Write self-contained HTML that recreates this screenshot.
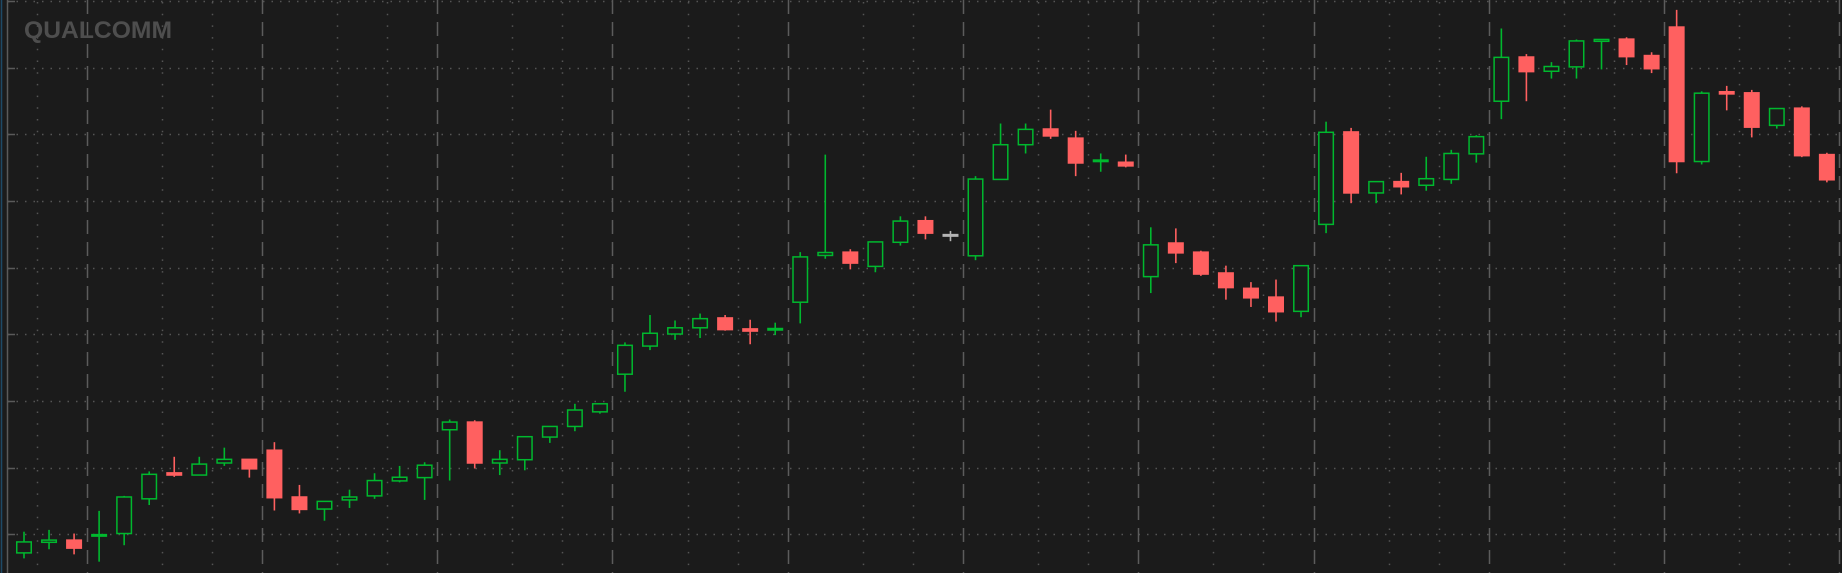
<!DOCTYPE html>
<html><head><meta charset="utf-8"><style>
html,body{margin:0;padding:0;background:#1b1b1b;}
svg{display:block;}
</style></head><body>
<svg id="chart" width="1842" height="573" xmlns="http://www.w3.org/2000/svg">
<rect x="0" y="0" width="1842" height="573" fill="#1b1b1b"/>
<line x1="1.5" y1="0" x2="1.5" y2="573" stroke="#1e4a66" stroke-width="1.5"/>
<g id="grid"></g>
<text x="24" y="38" font-family="Liberation Sans, sans-serif" font-weight="bold" font-size="24" fill="#4e4e4e" textLength="148" lengthAdjust="spacingAndGlyphs">QUALCOMM</text>
<line x1="7.5" y1="0" x2="7.5" y2="573" stroke="#5a5a5a" stroke-width="1.5"/>
<g id="candles"></g>
</svg>
<script>
const opens  = [8.7,11.6,12.2,13.3,14,23.5,30.6,30,33.3,34.3,36.8,24,20.7,23.2,24.3,28.4,29.3,42.4,44.5,33.3,34.2,40.4,43.3,47.3,57.6,65.3,68.6,70.3,73,70,69.7,77.3,90.1,91,87.1,93.7,99.6,95.8,90,110.9,120.4,124.7,122.2,115.8,115.6,84.3,93.5,91,85.3,81.1,78.7,74.8,98.6,123.9,107.2,110.3,109.3,110.9,117.9,132.3,144.4,140.5,141.7,148.7,149.3,144.8,152.6,115.8,134.9,134.6,125.7,130.4,117.7];
const highs  = [14.5,15,14,20.2,24.3,31,35,35,37.5,34.3,39,27.3,22.8,26,30.5,32.5,33.5,45.2,45,36.8,40.5,43.3,49.5,49.5,66.3,73.8,72.3,74.2,73.8,72.5,71.7,91,117.7,91.8,93.8,100.8,100.8,96.8,111.8,126.2,126.2,130,124.2,118,117.7,97.8,97.5,91.4,87.3,82.8,83.5,87.3,126.7,125,110.3,112.7,117.1,119,123,152.2,145.2,143,149.2,149.2,149.8,145.7,157.3,135,136.5,135.4,130.3,130.9,118.2];
const lows   = [7.2,9.7,8.3,6.3,10.8,21.8,29.5,30,32.5,29.3,20.3,19.5,17.5,21,23.5,28,23.2,28.5,31.8,30,31.3,38.8,42,46.8,52.8,64.2,67,67.5,69.5,65.8,68.3,71.5,89.2,86.3,85.5,92.8,94.5,94,88.8,110.9,118,122,111.8,113,114.2,79.8,88,84.5,78,76,72,73.2,96.2,104.4,104.4,106.8,107.8,109.7,115.5,127.4,132.3,138.5,138.5,141,142.2,140,112.6,115,129.8,122.4,124.8,117,110.1];
const closes = [11.7,12.2,10,13.7,24,30.2,30,33,34.3,31.7,23.8,20.6,22.8,24,28.5,29.4,32.7,44.5,33.3,34.3,40.5,43.3,47.8,49.5,65.5,68.8,70.3,72.8,69.8,69.4,70.1,89.7,90.9,88,93.8,99.5,96.2,95.8,111,120.4,124.6,122.8,115.4,116.2,114.6,93,90.8,85,81.3,78.5,74.7,87.3,123.8,107.2,110.3,108.9,111.1,118,122.6,144.3,140.4,141.8,148.8,149.2,144.5,141.2,115.8,134.5,134.3,125.2,130.3,117.4,110.8];
const yTicks = [159.7,141.5,123.2,105,86.7,68.5,50.2,32,13.8];

const NS = 'http://www.w3.org/2000/svg';
const x0 = 24, step = 25.04;
function xScale(i){ return x0 + step*i; }
function yScale(p){ return (1600 - 10*p) * 0.36543; }
function mk(tag, attrs, parent){
  const e = document.createElementNS(NS, tag);
  for (const k in attrs) e.setAttribute(k, attrs[k]);
  parent.appendChild(e); return e;
}
const grid = document.getElementById('grid');
yTicks.forEach(function(t){
  const y = Math.round(yScale(t)) + 0.5;
  const l = mk('line', {x1: 8, y1: y, x2: 1842, y2: y, stroke: '#555', 'stroke-width': 1.5, 'stroke-dasharray': '1.5 7'}, grid);
  
  
  const tk = mk('line', {x1: 7, y1: y, x2: 15, y2: y, stroke: '#5a5a5a', 'stroke-width': 1.5}, grid);
  
  
});
const n = opens.length;
for (let i = -0.5; i < n + 1; i += 1) {
  const k = Math.round(i - 2.5);
  const mod = ((k % 7) + 7) % 7;
  const x = Math.round(xScale(i)) + 0.5;
  if (mod === 0) {
    const l = mk('line', {x1: x, y1: 0, x2: x, y2: 573, stroke: '#5c5c5c', 'stroke-width': 1.5, 'stroke-dasharray': '14 8'}, grid);
    
    
  } else if (mod === 3 || mod === 5) {
    const l = mk('line', {x1: x, y1: 2, x2: x, y2: 573, stroke: '#555', 'stroke-width': 1.5, 'stroke-dasharray': '1.5 10.2'}, grid);
    
    
  }
}
const cg = document.getElementById('candles');
const bw = 16;
for (let i = 0; i < n; i++) {
  const o = opens[i], c = closes[i], h = highs[i], lo = lows[i];
  const up = c > o, flat = c === o;
  const col = flat ? '#b4b4b4' : (up ? '#00b82e' : '#ff6060');
  const x = xScale(i);
  const g = mk('g', {}, cg);
  
  
  const top = yScale(Math.max(o, c)), bot = yScale(Math.min(o, c));
  const w = mk('line', {x1: x, y1: yScale(h), x2: x, y2: yScale(lo), stroke: col, 'stroke-width': 1.6}, g);
  
  
  const hgt = Math.max(bot - top, 1.5);
  let b;
  if (up) {
    b = mk('rect', {x: x - bw/2 + 0.75, y: top, width: bw - 1.5, height: hgt, fill: '#1b1b1b', stroke: col, 'stroke-width': 1.5}, g);
  } else {
    b = mk('rect', {x: x - bw/2, y: top - 0.75, width: bw, height: hgt + 1.5, fill: col}, g);
  }
  
  
}
</script>
</body></html>
